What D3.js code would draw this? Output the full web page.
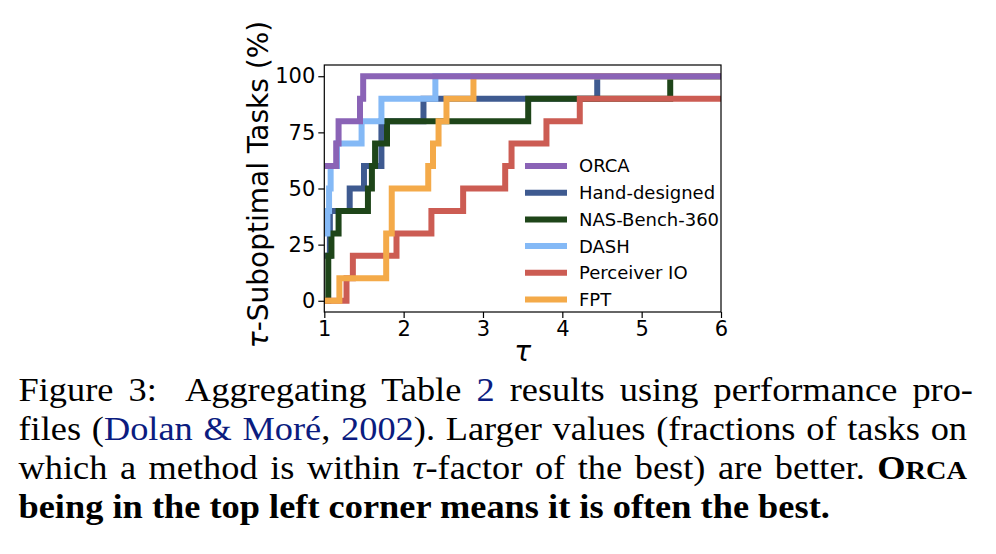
<!DOCTYPE html>
<html>
<head>
<meta charset="utf-8">
<script src="https://cdn.jsdelivr.net/npm/d3@7"></script>
<style>
  html, body { margin: 0; padding: 0; background: #fff; }
  svg { display: block; }
</style>
</head>
<body>
<svg id="chart" width="996" height="554"></svg>
<script>
// ---------------- DATA ----------------
const seriesNames = ["ORCA", "Hand-designed", "NAS-Bench-360", "DASH", "Perceiver IO", "FPT"];
const seriesColors = ["#8a63b6", "#3e5a90", "#1e4519", "#84b9f6", "#cc5c53", "#f4aa49"];

const orcaTau = [1, 1.15, 1.18, 1.45, 1.49];
const orcaPct = [60, 70, 80, 90, 100];

const handTau = [1, 1.07, 1.32, 1.50, 1.72, 2.25, 4.44];
const handPct = [20, 40, 50, 60, 80, 90, 100];

const nasTau = [1, 1.05, 1.09, 1.18, 1.55, 1.60, 1.64, 1.79, 3.57, 5.36];
const nasPct = [0, 20, 30, 40, 50, 60, 70, 80, 90, 100];

const dashTau = [1, 1.04, 1.06, 1.08, 1.16, 1.47, 1.72, 2.40];
const dashPct = [30, 40, 50, 60, 70, 80, 90, 100];

const perceiverTau = [1, 1.28, 1.36, 1.91, 2.35, 2.75, 3.28, 3.36, 3.80, 4.22];
const perceiverPct = [0, 10, 20, 30, 40, 50, 60, 70, 80, 90];

const fptTau = [1, 1.19, 1.78, 1.85, 2.31, 2.37, 2.44, 2.54, 2.88];
const fptPct = [0, 10, 30, 50, 60, 70, 80, 90, 100];

const xTicks = [1, 2, 3, 4, 5, 6];
const yTicks = [0, 25, 50, 75, 100];
const xDomain = [1, 6];
const yDomain = [-5, 105];

const yLabel = "-Suboptimal Tasks (%)";
const tauSymbol = "τ";

// ---------------- LAYOUT ----------------
const svg = d3.select("#chart");
const plot = { left: 324.3, right: 721, top: 65, bottom: 312 };
const chartFont = "'DejaVu Sans', sans-serif";

const x = d3.scaleLinear().domain(xDomain).range([plot.left, plot.right]);
const y = d3.scaleLinear().domain(yDomain).range([plot.bottom, plot.top]);

svg.append("defs").append("clipPath").attr("id", "clip")
  .append("rect")
  .attr("x", plot.left).attr("y", plot.top)
  .attr("width", plot.right - plot.left).attr("height", plot.bottom - plot.top);

const allSeries = [
  { name: seriesNames[0], tau: orcaTau, pct: orcaPct, color: seriesColors[0] },
  { name: seriesNames[1], tau: handTau, pct: handPct, color: seriesColors[1] },
  { name: seriesNames[2], tau: nasTau, pct: nasPct, color: seriesColors[2] },
  { name: seriesNames[3], tau: dashTau, pct: dashPct, color: seriesColors[3] },
  { name: seriesNames[4], tau: perceiverTau, pct: perceiverPct, color: seriesColors[4] },
  { name: seriesNames[5], tau: fptTau, pct: fptPct, color: seriesColors[5] }
];

const line = d3.line()
  .x(d => x(d[0]))
  .y(d => y(d[1]))
  .curve(d3.curveStepAfter);

// draw order: ORCA last (on top)
const drawOrder = [1, 2, 3, 4, 5, 0];
const lines = svg.append("g").attr("clip-path", "url(#clip)");
drawOrder.forEach(i => {
  const s = allSeries[i];
  const pts = s.tau.map((t, k) => [t, s.pct[k]]);
  pts.push([xDomain[1] + 0.2, s.pct[s.pct.length - 1]]);
  lines.append("path")
    .attr("d", line(pts))
    .attr("fill", "none")
    .attr("stroke", s.color)
    .attr("stroke-width", 6)
    .attr("stroke-linejoin", "miter");
});

// axes
const xAxis = d3.axisBottom(x).tickValues(xTicks).tickFormat(d3.format("d")).tickSizeInner(6).tickSizeOuter(0).tickPadding(3);
const yAxis = d3.axisLeft(y).tickValues(yTicks).tickFormat(d3.format("d")).tickSizeInner(6).tickSizeOuter(0).tickPadding(3);

const gx = svg.append("g").attr("transform", `translate(0,${plot.bottom})`).call(xAxis);
const gy = svg.append("g").attr("transform", `translate(${plot.left},0)`).call(yAxis);
[gx, gy].forEach(g => {
  g.select(".domain").remove();
  g.selectAll(".tick line").attr("stroke", "#000").attr("stroke-width", 1.2);
  g.selectAll(".tick text").attr("fill", "#000").style("font-family", chartFont).style("font-size", "21px");
});

// frame
svg.append("rect")
  .attr("x", plot.left).attr("y", plot.top)
  .attr("width", plot.right - plot.left).attr("height", plot.bottom - plot.top)
  .attr("fill", "none").attr("stroke", "#000").attr("stroke-width", 1.2);

// axis labels
const ylab = svg.append("text")
  .attr("transform", `translate(268,${(plot.top + plot.bottom) / 2 - 4}) rotate(-90)`)
  .attr("text-anchor", "middle")
  .style("font-family", chartFont).style("font-size", "28px").attr("fill", "#000");
ylab.append("tspan").style("font-style", "italic").text(tauSymbol);
ylab.append("tspan").text(yLabel);

svg.append("text")
  .attr("x", (plot.left + plot.right) / 2).attr("y", 361)
  .attr("text-anchor", "middle")
  .style("font-family", chartFont).style("font-size", "28px").style("font-style", "italic")
  .attr("fill", "#000").text(tauSymbol);

// legend
const legend = svg.append("g");
allSeries.forEach((s, i) => {
  const cy = 166 + i * 26.7;
  legend.append("line")
    .attr("x1", 525).attr("x2", 567).attr("y1", cy).attr("y2", cy)
    .attr("stroke", s.color).attr("stroke-width", 6);
  legend.append("text")
    .attr("x", 579).attr("y", cy).attr("dy", "0.36em")
    .style("font-family", chartFont).style("font-size", "18px").attr("fill", "#000")
    .text(s.name);
});

// ---------------- CAPTION ----------------
const linkColor = "#0b1c80";
const captionLines = [
  { justify: true, bold: false, parts: [
    { t: "Figure 3:\u00a0 Aggregating Table " }, { t: "2", c: linkColor }, { t: " results using performance pro-" } ] },
  { justify: true, bold: false, parts: [
    { t: "files (" }, { t: "Dolan & Moré", c: linkColor }, { t: ", " }, { t: "2002", c: linkColor },
    { t: "). Larger values (fractions of tasks on" } ] },
  { justify: true, bold: false, parts: [
    { t: "which a method is within " }, { t: "τ", i: true }, { t: "-factor of the best) are better. " },
    { t: "O", b: true }, { t: "RCA", b: true, s: 0.78 } ] },
  { justify: false, bold: true, parts: [
    { t: "being in the top left corner means it is often the best." } ] }
];
const capLeft = 18.5, capRight = 967, capBase = 401, capStep = 39, capFont = 33;
const lastLineRight = 830;
const capGroup = svg.append("g");
const capTexts = captionLines.map((ln, li) => {
  const tx = capGroup.append("text")
    .attr("x", 0).attr("y", capBase + li * capStep)
    .style("font-family", "'Liberation Serif', 'Times New Roman', serif")
    .style("font-size", capFont + "px")
    .style("font-weight", ln.bold ? "bold" : "normal")
    .attr("fill", "#000")
    .attr("xml:space", "preserve");
  ln.parts.forEach(p => {
    const ts = tx.append("tspan").text(p.t);
    if (p.c) ts.attr("fill", p.c);
    if (p.i) ts.style("font-style", "italic");
    if (p.b) ts.style("font-weight", "bold");
    if (p.s) ts.style("font-size", (capFont * p.s) + "px");
  });
  return tx;
});
// horizontal scale derived from the last (natural-width) line
const lastW = capTexts[3].node().getComputedTextLength();
const sx = (lastLineRight - capLeft) / lastW;
capGroup.attr("transform", `translate(${capLeft},0) scale(${sx},1)`);
captionLines.forEach((ln, li) => {
  if (!ln.justify) return;
  const tx = capTexts[li];
  const w = tx.node().getComputedTextLength();
  const full = ln.parts.map(p => p.t).join("");
  const nSpaces = (full.match(/ /g) || []).length;
  const target = (capRight - capLeft) / sx;
  if (nSpaces > 0) tx.style("word-spacing", ((target - w) / nSpaces) + "px");
});
</script>
</body>
</html>
